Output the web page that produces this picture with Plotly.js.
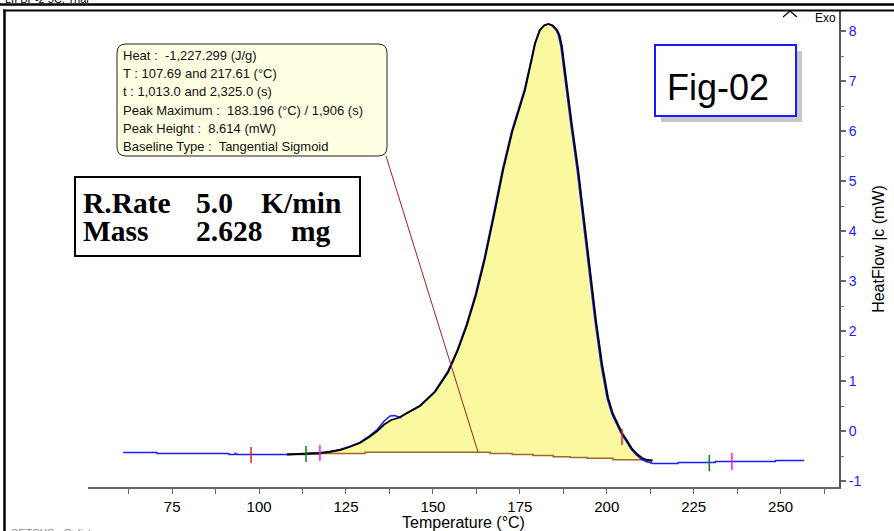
<!DOCTYPE html>
<html>
<head>
<meta charset="utf-8">
<script src="https://cdn.plot.ly/plotly-3.0.1.min.js"></script>
<style>
  html, body { margin: 0; padding: 0; background: #ffffff; }
  #chart { width: 894px; height: 531px; }
</style>
</head>
<body>
<div id="chart"></div>
<script>
// ---------------- DATA ----------------
// Measured heat flow (blue), temperature in °C, heat flow in mW
const measT = [60.9, 70.6, 70.7, 91.3, 91.4, 93.0, 93.2, 93.5, 108, 110, 113.5, 117.5, 120, 123.3, 126, 129, 131.5, 134,
  136, 137.7, 139, 140.6, 142, 146.1, 150.4, 154.2, 157.0, 159.6, 162.2, 164.8, 167.4, 170.0, 172.6, 174.6, 176.3,
  177.9, 179.3, 180.7, 182.0, 183.2, 184.2, 185.4, 186.1, 186.8, 187.5, 188.3, 189.0, 189.7, 191.5, 193.2, 194.9,
  196.6, 198.4, 200.1, 201.5, 202.7, 204.1, 205.6, 207.0, 208.4, 209.9, 211.3, 212.8, 213.3, 220.5, 220.6, 231.2,
  231.3, 248.5, 248.6, 256.8];
const measV = [-0.43, -0.43, -0.45, -0.45, -0.47, -0.47, -0.44, -0.47, -0.47, -0.465, -0.46, -0.44, -0.42, -0.37, -0.31, -0.23, -0.11, 0.03,
  0.20, 0.30, 0.31, 0.27, 0.34, 0.50, 0.78, 1.18, 1.62, 2.12, 2.72, 3.46, 4.32, 5.22, 5.98, 6.45, 6.82,
  7.30, 7.75, 8.02, 8.11, 8.14, 8.11, 8.02, 7.92, 7.70, 7.35, 6.85, 6.50, 6.12, 5.22, 4.22, 3.22,
  2.22, 1.32, 0.66, 0.34, 0.16, -0.04, -0.20, -0.36, -0.47, -0.56, -0.61, -0.64, -0.65, -0.65, -0.63, -0.63,
  -0.61, -0.61, -0.59, -0.59];

// Integrated peak curve (black)
const peakT = [108, 110, 113.5, 117.5, 120, 123.3, 126, 129, 131.5, 134, 136, 138, 140, 142, 146.3, 150.6, 154.4, 157.2,
  159.8, 162.4, 165.0, 167.6, 170.2, 172.8, 174.8, 176.5, 178.0, 179.4, 180.8, 182.0, 183.2, 184.5, 185.7, 186.4,
  187.1, 187.8, 188.6, 189.3, 190.0, 191.8, 193.5, 195.2, 196.9, 198.7, 200.4, 201.8, 203.0, 204.4, 205.9, 207.3,
  208.7, 210.2, 211.6, 213.1];
const peakV = [-0.47, -0.465, -0.46, -0.44, -0.42, -0.38, -0.32, -0.24, -0.13, 0.0, 0.13, 0.22, 0.26, 0.34, 0.50, 0.78, 1.18, 1.62,
  2.12, 2.72, 3.46, 4.32, 5.22, 5.98, 6.45, 6.82, 7.30, 7.75, 8.02, 8.11, 8.14, 8.11, 8.02, 7.92,
  7.70, 7.35, 6.85, 6.50, 6.12, 5.22, 4.22, 3.22, 2.22, 1.32, 0.66, 0.34, 0.16, -0.04, -0.20, -0.36,
  -0.46, -0.54, -0.58, -0.60];

// Tangential sigmoid baseline (brown, stepped)
const baseT = [108, 113.5, 117.5, 130.5, 163.6, 166.5, 172.8, 178.8, 184.6, 189.5, 194.4, 201.8, 213.1];
const baseV = [-0.47, -0.465, -0.45, -0.425, -0.425, -0.45, -0.47, -0.49, -0.515, -0.53, -0.545, -0.575, -0.59];

// Limit markers (vertical ticks)
const markT  = [97.7, 113.5, 117.5, 204.4, 229.5, 236.0];
const markLo = [-0.64, -0.62, -0.60, -0.28, -0.80, -0.78];
const markHi = [-0.32, -0.30, -0.28, 0.04, -0.48, -0.44];
const markKind = ['onset', 'start', 'limit', 'onset', 'start', 'limit'];

// Axis ticks
const xTicks = [75, 100, 125, 150, 175, 200, 225, 250];
const xMinor = [62.5, 87.5, 112.5, 137.5, 162.5, 187.5, 212.5, 237.5, 262.5];
const yTicks = [-1, 0, 1, 2, 3, 4, 5, 6, 7, 8];

// Texts
const infoLines = [
  'Heat :  -1,227.299 (J/g)',
  'T : 107.69 and 217.61 (°C)',
  't : 1,013.0 and 2,325.0 (s)',
  'Peak Maximum :  183.196 (°C) / 1,906 (s)',
  'Peak Height :  8.614 (mW)',
  'Baseline Type :  Tangential Sigmoid'
];
const condRow1 = ['R.Rate', '5.0', 'K/min'];
const condRow2 = ['Mass', '2.628', 'mg'];

// ---------------- STYLE / LAYOUT ----------------
const kindColor = { onset: '#e8202a', start: '#137a13', limit: '#ff14ff' };
const SANS = 'Arial, "Liberation Sans", sans-serif';
const SERIF = '"Times New Roman", "Liberation Serif", serif';

const L = 88, R = 839, TOP = 11, B = 487;
const px = x => (x - L) / (R - L);
const py = y => (B - y) / (B - TOP);

function rrect(x0, y0, x1, y1, r) {
  const p = (x, y) => px(x).toFixed(5) + ',' + py(y).toFixed(5);
  return 'M' + p(x0 + r, y0) + ' L' + p(x1 - r, y0) + ' Q' + p(x1, y0) + ' ' + p(x1, y0 + r) +
    ' L' + p(x1, y1 - r) + ' Q' + p(x1, y1) + ' ' + p(x1 - r, y1) +
    ' L' + p(x0 + r, y1) + ' Q' + p(x0, y1) + ' ' + p(x0, y1 - r) +
    ' L' + p(x0, y0 + r) + ' Q' + p(x0, y0) + ' ' + p(x0 + r, y0) + ' Z';
}

const traces = [];
traces.push({ x: baseT, y: baseV, mode: 'lines', line: { width: 0, color: 'rgba(0,0,0,0)', shape: 'hv' }, hoverinfo: 'skip', showlegend: false });
traces.push({ x: peakT, y: peakV, mode: 'lines', fill: 'tonexty', fillcolor: '#fbf9a0', line: { width: 0, color: 'rgba(0,0,0,0)' }, hoverinfo: 'skip', showlegend: false });
traces.push({ x: baseT, y: baseV, mode: 'lines', line: { width: 1.6, color: '#a0692c', shape: 'hv' }, showlegend: false });
traces.push({ x: measT, y: measV, mode: 'lines', line: { width: 1.6, color: '#1a1aff' }, showlegend: false });
traces.push({ x: peakT, y: peakV, mode: 'lines', line: { width: 1.8, color: '#000000' }, showlegend: false });
markT.forEach((t, i) => {
  traces.push({ x: [t, t], y: [markLo[i], markHi[i]], mode: 'lines', line: { width: 1.5, color: kindColor[markKind[i]] }, showlegend: false });
});

const shapes = [
  { type: 'line', xref: 'paper', yref: 'paper', x0: px(0), x1: px(894), y0: py(4.5), y1: py(4.5), line: { color: '#000', width: 2.5 } },
  { type: 'line', xref: 'paper', yref: 'paper', x0: px(3), x1: px(894), y0: py(10.5), y1: py(10.5), line: { color: '#000', width: 2 } },
  { type: 'line', xref: 'paper', yref: 'paper', x0: px(4.5), x1: px(4.5), y0: py(9.5), y1: py(535), line: { color: '#000', width: 2.5 } },
  { type: 'path', xref: 'paper', yref: 'paper', path: 'M' + px(783) + ',' + py(17) + ' L' + px(790) + ',' + py(11) + ' L' + px(797) + ',' + py(17), line: { color: '#000', width: 1.2 } },
  { type: 'path', xref: 'paper', yref: 'paper', path: rrect(117, 44, 387, 156, 9), fillcolor: '#ffffe3', line: { color: '#222', width: 1 } },
  { type: 'line', xref: 'paper', yref: 'paper', x0: px(386), y0: py(156), x1: px(478), y1: py(452), line: { color: '#a52020', width: 1 } },
  { type: 'rect', xref: 'paper', yref: 'paper', x0: px(75), x1: px(360), y0: py(177), y1: py(256), fillcolor: '#ffffff', line: { color: '#000', width: 2 } },
  { type: 'rect', xref: 'paper', yref: 'paper', x0: px(661), x1: px(802), y0: py(51), y1: py(122), fillcolor: '#c8c8c8', line: { width: 0 } },
  { type: 'rect', xref: 'paper', yref: 'paper', x0: px(655), x1: px(796), y0: py(45), y1: py(116), fillcolor: '#ffffff', line: { color: '#1a1aff', width: 2 } }
];

const annotations = [];
infoLines.forEach((s, i) => {
  annotations.push({ xref: 'paper', yref: 'paper', x: px(121), y: py(55.7 + i * 18.1), xanchor: 'left', yanchor: 'middle',
    text: s, showarrow: false, font: { family: SANS, size: 13, color: '#111' } });
});
const colX = [81, 194, 259];
const colX2 = [81, 194, 289];
condRow1.forEach((s, i) => annotations.push({ xref: 'paper', yref: 'paper', x: px(colX[i]), y: py(203), xanchor: 'left', yanchor: 'middle', text: '<b>' + s + '</b>', showarrow: false, font: { family: SERIF, size: 29.5, color: '#000' } }));
condRow2.forEach((s, i) => annotations.push({ xref: 'paper', yref: 'paper', x: px(colX2[i]), y: py(231), xanchor: 'left', yanchor: 'middle', text: '<b>' + s + '</b>', showarrow: false, font: { family: SERIF, size: 29.5, color: '#000' } }));
annotations.push({ xref: 'paper', yref: 'paper', x: px(718), y: py(88), xanchor: 'center', yanchor: 'middle', text: 'Fig-02', showarrow: false, font: { family: SANS, size: 36, color: '#000' } });
annotations.push({ xref: 'paper', yref: 'paper', x: px(838), y: py(18), xanchor: 'right', yanchor: 'middle', text: 'Exo', showarrow: false, font: { family: SANS, size: 12, color: '#000' } });
annotations.push({ xref: 'paper', yref: 'paper', x: px(4), y: py(6), xanchor: 'left', yanchor: 'bottom', text: 'LII BP-2 5C, Trial', showarrow: false, borderpad: 0, font: { family: SANS, size: 11, color: '#000' } });
annotations.push({ xref: 'paper', yref: 'paper', x: px(10), y: py(526), xanchor: 'left', yanchor: 'top', text: 'SETSYS : Calisto', showarrow: false, borderpad: 0, font: { family: SANS, size: 11, color: '#888' } });

const layout = {
  width: 894, height: 531,
  margin: { l: L, r: 894 - R, t: TOP, b: 531 - B, pad: 0 },
  paper_bgcolor: '#ffffff', plot_bgcolor: '#ffffff',
  showlegend: false,
  font: { family: SANS, color: '#000' },
  xaxis: {
    range: [50.8, 266.8], tickvals: xTicks, ticktext: xTicks.map(String),
    ticks: 'outside', ticklen: 5, tickwidth: 1, tickcolor: '#666',
    minor: { tickvals: xMinor, ticks: 'outside', ticklen: 5, tickcolor: '#666', tickwidth: 1 },
    showline: true, linecolor: '#666', linewidth: 1.5, showgrid: false, zeroline: false,
    tickfont: { family: SANS, size: 15, color: '#000' },
    title: { text: 'Temperature (°C)', font: { family: SANS, size: 16, color: '#000' }, standoff: 1 }
  },
  yaxis: {
    side: 'right', range: [-1.12, 8.4], tickvals: yTicks, ticktext: yTicks.map(String),
    ticks: 'outside', ticklen: 5, tickwidth: 1.2, tickcolor: '#666',
    minor: { dtick: 0.5, tick0: 0.5, ticks: 'outside', ticklen: 3, tickcolor: '#777', tickwidth: 1 },
    showline: true, linecolor: '#555', linewidth: 2, showgrid: false, zeroline: false,
    tickfont: { family: SANS, size: 14, color: '#1a1aff' },
    title: { text: 'HeatFlow |c (mW)', font: { family: SANS, size: 16, color: '#000' }, standoff: 12 }
  },
  shapes: shapes,
  annotations: annotations
};

Plotly.newPlot('chart', traces, layout, { displayModeBar: false, staticPlot: true });
</script>
</body>
</html>
